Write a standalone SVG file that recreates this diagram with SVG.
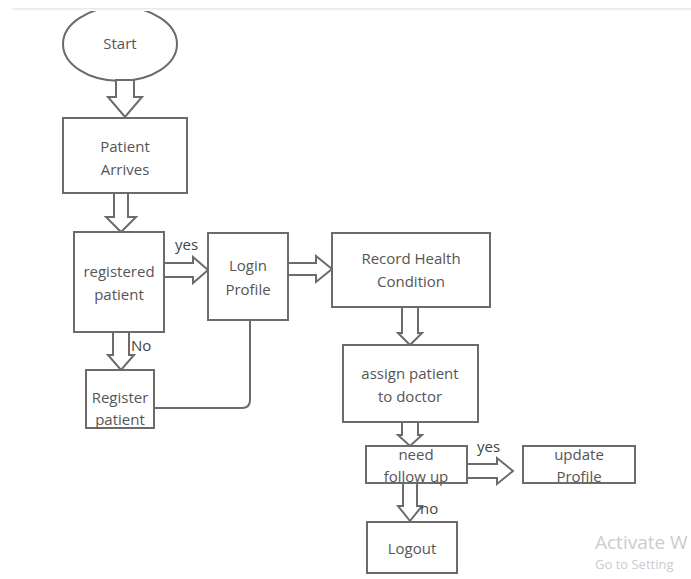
<svg xmlns="http://www.w3.org/2000/svg" width="691" height="579" viewBox="0 0 691 579">
<defs>
<linearGradient id="topband" x1="0" y1="0" x2="0" y2="1">
<stop offset="0" stop-color="#e6e6e6"/>
<stop offset="1" stop-color="#ffffff"/>
</linearGradient>
</defs>
<style>
.n{fill:#ffffff;stroke:#6b6b6b;stroke-width:2}
.a{fill:#ffffff;stroke:#6b6b6b;stroke-width:2;stroke-linejoin:miter}
.c{fill:none;stroke:#6b6b6b;stroke-width:2}
.t{font-family:"Open Sans","Noto Sans","DejaVu Sans",sans-serif;font-size:15px;fill:#555555;text-anchor:middle}
.l{font-family:"Open Sans","Noto Sans","DejaVu Sans",sans-serif;font-size:15px;fill:#444444}
.w{font-family:"Open Sans","Noto Sans","DejaVu Sans",sans-serif;fill:#cccccc}
</style>
<rect width="691" height="579" fill="#ffffff"/>
<g id="start">
<ellipse class="n" cx="120" cy="44" rx="57" ry="37"/>
<text class="t" x="120" y="49">Start</text>
</g>
<rect x="0" y="0" width="691" height="8" fill="#ffffff"/>
<rect x="12" y="8" width="679" height="3" fill="url(#topband)"/>
<g id="connectors">
<polygon class="a" points="116,80 134,80 134,97 142,97 125,117 108,97 116,97"/>
<polygon class="a" points="114,193 128,193 128,217 136,217 121,232 106,217 114,217"/>
<polygon class="a" points="113,332 129,332 129,355 134,355 121,370 108,355 113,355"/>
<polygon class="a" points="402,307 418,307 418,333 422,333 410,345 398,333 402,333"/>
<polygon class="a" points="402,422 418,422 418,435 422,435 410,446 398,435 402,435"/>
<polygon class="a" points="403,483 417,483 417,506 422,506 410,521 398,506 403,506"/>
<polygon class="a" points="164,263 193,263 193,257 208,270 193,283 193,277 164,277"/>
<polygon class="a" points="288,263 316,263 316,256 332,269 316,282 316,275 288,275"/>
<polygon class="a" points="467,464 497,464 497,458 513,471 497,484 497,478 467,478"/>
<path class="c" d="M250,320 V400 Q250,408 242,408 H154"/>
<text class="l" x="175" y="250">yes</text>
<text class="l" x="131" y="351">No</text>
<text class="l" x="477" y="452">yes</text>
<text class="l" x="420" y="514">no</text>
</g>
<g id="patient-arrives">
<rect class="n" x="63" y="118" width="124" height="75"/>
<text class="t" x="125" y="152">Patient</text>
<text class="t" x="125" y="175">Arrives</text>
</g>
<g id="registered-patient">
<rect class="n" x="74" y="232" width="90" height="100"/>
<text class="t" x="119" y="277">registered</text>
<text class="t" x="119" y="300">patient</text>
</g>
<g id="login-profile">
<rect class="n" x="208" y="233" width="80" height="87"/>
<text class="t" x="248" y="271">Login</text>
<text class="t" x="248" y="295">Profile</text>
</g>
<g id="record-health">
<rect class="n" x="332" y="233" width="158" height="74"/>
<text class="t" x="411" y="264">Record Health</text>
<text class="t" x="411" y="287">Condition</text>
</g>
<g id="register-patient">
<rect class="n" x="86" y="370" width="68" height="58"/>
<text class="t" x="120" y="403">Register</text>
<text class="t" x="120" y="425">patient</text>
</g>
<g id="assign-patient">
<rect class="n" x="343" y="345" width="135" height="77"/>
<text class="t" x="410" y="379">assign patient</text>
<text class="t" x="410" y="402">to doctor</text>
</g>
<g id="need-follow-up">
<rect class="n" x="366" y="446" width="101" height="37"/>
<text class="t" x="416" y="460">need</text>
<text class="t" x="416" y="482">follow up</text>
</g>
<g id="update-profile">
<rect class="n" x="523" y="446" width="112" height="37"/>
<text class="t" x="579" y="460">update</text>
<text class="t" x="579" y="482">Profile</text>
</g>
<g id="logout">
<rect class="n" x="367" y="522" width="90" height="51"/>
<text class="t" x="412" y="554">Logout</text>
</g>
<text class="w" x="595" y="549" font-size="19">Activate W</text>
<text class="w" x="595" y="569" font-size="13">Go to Setting</text>
</svg>
